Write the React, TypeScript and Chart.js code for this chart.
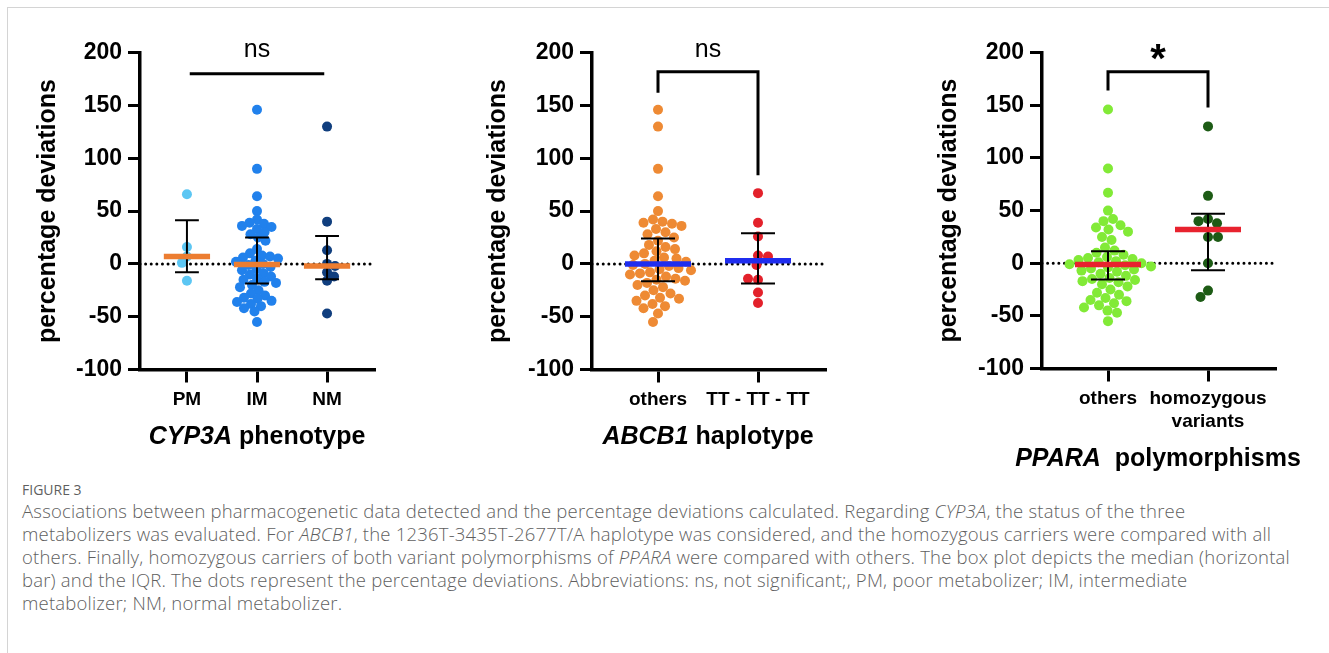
import React, { useEffect, useRef } from "react";
import { Chart, registerables } from "chart.js";

Chart.register(...registerables);

const FONT = '"Liberation Sans", Arial, Helvetica, sans-serif';

// ---------- shared axis ----------
const Y_MIN = -100;
const Y_MAX = 200;
const Y_STEP = 50;
const yAxisTitle = "percentage deviations";

// ---------- Panel 1: CYP3A phenotype ----------
const cyp3aCategories = ["PM", "IM", "NM"];
const pmValues = [66, 16, 7, 1, -16];
const imValues = [
  146, 90, 64, 50, 42, 39, 38, 36, 35, 33, 30, 28, 25, 22, 14, 10, 8, 7, 6, 5,
  3, 2, 0, -1, -3, -5, -6, -9, -10, -12, -14, -15, -17, -18, -20, -22, -25,
  -28, -30, -32, -33, -35, -36, -38, -40, -42, -45, -55,
];
const nmValues = [130, 40, 13, 0, -2, -8, -12, -16, -47];
const cyp3aMedians = [7, -0.5, -2];
const cyp3aQ1 = [-8, -18.6, -14.5];
const cyp3aQ3 = [41.4, 24.9, 26.5];

// ---------- Panel 2: ABCB1 haplotype ----------
const abcb1Categories = ["others", "TT - TT - TT"];
const abcb1Others = [
  146, 130, 90, 64, 50, 42, 40, 39, 38, 36, 33, 30, 28, 25, 22, 18, 16, 14, 12,
  10, 8, 6, 5, 3, 2, 0, -1, -2, -4, -5, -6, -8, -9, -10, -12, -14, -15, -16,
  -18, -20, -22, -25, -28, -30, -32, -33, -35, -38, -40, -42, -47, -55,
];
const abcb1TT = [67, 39, 26, 8, 7, -1, -15, -14, -27, -37];
const abcb1Medians = [0, 3];
const abcb1Q1 = [-16.4, -18.6];
const abcb1Q3 = [24, 29];

// ---------- Panel 3: PPARA polymorphisms ----------
const pparaCategories: (string | string[])[] = ["others", ["homozygous", "variants"]];
const pparaOthers = [
  146, 90, 67, 50, 42, 40, 36, 34, 32, 30, 25, 22, 15, 12, 10, 8, 6, 5, 4, 3, 2,
  1, 0, -1, -2, -3, -4, -5, -6, -7, -8, -10, -12, -14, -15, -16, -17, -18, -20,
  -22, -25, -28, -30, -33, -35, -36, -38, -40, -42, -45, -47, -55,
];
const pparaHomozygous = [130, 64, 42, 40, 38, 25, 25, 0, -26, -32];
const pparaMedians = [-1.3, 32];
const pparaQ1 = [-15.5, -6.6];
const pparaQ3 = [11.4, 47];

// ---------- significance annotations ----------
const sigLabels = ["ns", "ns", "*"];
const bracketY = [180, 182, 182];
const bracketLeftEnd: (number | null)[] = [null, 162, 164];
const bracketRightEnd: (number | null)[] = [null, 84, 148];

// ---------- x axis titles ----------
const xTitleItalic = ["CYP3A", "ABCB1", "PPARA"];
const xTitleRest = [" phenotype", " haplotype", "  polymorphisms"];

// ---------- caption ----------
const captionHead = "FIGURE 3";
const captionLines: { t: string; i?: boolean }[][] = [
  [
    { t: "Associations between pharmacogenetic data detected and the percentage deviations calculated. Regarding " },
    { t: "CYP3A", i: true },
    { t: ", the status of the three" },
  ],
  [
    { t: "metabolizers was evaluated. For " },
    { t: "ABCB1", i: true },
    { t: ", the 1236T-3435T-2677T/A haplotype was considered, and the homozygous carriers were compared with all" },
  ],
  [
    { t: "others. Finally, homozygous carriers of both variant polymorphisms of " },
    { t: "PPARA", i: true },
    { t: " were compared with others. The box plot depicts the median (horizontal" },
  ],
  [
    { t: "bar) and the IQR. The dots represent the percentage deviations. Abbreviations: ns, not significant;, PM, poor metabolizer; IM, intermediate" },
  ],
  [{ t: "metabolizer; NM, normal metabolizer." }],
];

type Panel = {
  left: number;
  width: number;
  height: number;
  axisLeft: number;
  axisRight: number;
  axisTop: number;
  axisBottom: number;
  xMin: number;
  xMax: number;
  pxPerX: number;
  minDist: number;
  categories: (string | string[])[];
  groups: number[][];
  colors: string[];
  medians: number[];
  q1: number[];
  q3: number[];
  medianColor: string;
  titlePad: number;
  idx: number;
  xTitleBaseline: number;
};

const panels: Panel[] = [
  {
    left: 0, width: 440, height: 480,
    axisLeft: 140, axisRight: 374, axisTop: 52.7, axisBottom: 369.5,
    xMin: -0.67, xMax: 2.67, pxPerX: 70, minDist: 8,
    categories: cyp3aCategories,
    groups: [pmValues, imValues, nmValues],
    colors: ["#5CC6F3", "#2181EC", "#103E7E"],
    medians: cyp3aMedians, q1: cyp3aQ1, q3: cyp3aQ3,
    medianColor: "#EC7D31", titlePad: 33, idx: 0, xTitleBaseline: 443.5,
  },
  {
    left: 440, width: 440, height: 480,
    axisLeft: 152, axisRight: 385, axisTop: 52.7, axisBottom: 369.5,
    xMin: -0.66, xMax: 1.67, pxPerX: 100, minDist: 9.6,
    categories: abcb1Categories,
    groups: [abcb1Others, abcb1TT],
    colors: ["#EE8A34", "#E3212B"],
    medians: abcb1Medians, q1: abcb1Q1, q3: abcb1Q3,
    medianColor: "#1F2DEF", titlePad: 43, idx: 1, xTitleBaseline: 443.5,
  },
  {
    left: 880, width: 449, height: 480,
    axisLeft: 162, axisRight: 395, axisTop: 52.7, axisBottom: 368.5,
    xMin: -0.66, xMax: 1.67, pxPerX: 100, minDist: 9.6,
    categories: pparaCategories,
    groups: [pparaOthers, pparaHomozygous],
    colors: ["#82EA37", "#1D5B15"],
    medians: pparaMedians, q1: pparaQ1, q3: pparaQ3,
    medianColor: "#E8222E", titlePad: 54, idx: 2, xTitleBaseline: 466,
  },
];

// Deterministic beeswarm: offsets (in category units) computed from the values.
function swarm(values: number[], pxPerY: number, pxPerX: number, minDist: number): number[] {
  const placed: { x: number; y: number }[] = [];
  const out: number[] = [];
  values.forEach((v, idx) => {
    const y = v * pxPerY;
    const sign = idx % 2 === 0 ? 1 : -1;
    let best = 0;
    for (let k = 0; k < 400; k++) {
      const mag = Math.ceil(k / 2) * 0.5;
      const cand = k === 0 ? 0 : (k % 2 === 1 ? sign : -sign) * mag;
      let ok = true;
      for (const p of placed) {
        if (Math.hypot(p.x - cand, p.y - y) < minDist) {
          ok = false;
          break;
        }
      }
      if (ok) {
        best = cand;
        break;
      }
    }
    placed.push({ x: best, y });
    out.push(best / pxPerX);
  });
  return out;
}

function makeChart(canvas: HTMLCanvasElement, p: Panel): Chart {
  const chartH = p.axisBottom - p.axisTop;
  const pxPerY = chartH / (Y_MAX - Y_MIN);
  const datasets: any[] = [];

  // dotted zero line
  datasets.push({
    type: "line",
    data: [{ x: p.xMin, y: 0 }, { x: p.xMax, y: 0 }],
    borderColor: "#000",
    borderWidth: 3,
    borderDash: [0.01, 5.6],
    borderCapStyle: "round",
    pointRadius: 0,
    order: 10,
    clip: false,
  });

  // dots
  p.groups.forEach((vals, i) => {
    const offs = swarm(vals, pxPerY, p.pxPerX, p.minDist);
    datasets.push({
      type: "scatter",
      data: vals.map((v, k) => ({ x: i + offs[k], y: v })),
      backgroundColor: p.colors[i],
      borderWidth: 0,
      pointRadius: 5,
      order: 5,
    });
  });

  // IQR error bars
  const cap = 0.17;
  p.q1.forEach((q1, i) => {
    const q3 = p.q3[i];
    datasets.push({
      type: "line",
      data: [
        { x: i - cap, y: q3 }, { x: i + cap, y: q3 }, { x: i, y: null },
        { x: i, y: q3 }, { x: i, y: q1 }, { x: i + 0.001, y: null },
        { x: i - cap, y: q1 }, { x: i + cap, y: q1 },
      ],
      borderColor: "#000",
      borderWidth: 2,
      pointRadius: 0,
      spanGaps: false,
      order: 2,
    });
  });

  // median bars
  p.medians.forEach((m, i) => {
    datasets.push({
      type: "line",
      data: [{ x: i - 0.33, y: m }, { x: i + 0.33, y: m }],
      borderColor: p.medianColor,
      borderWidth: 5.5,
      pointRadius: 0,
      order: 1,
    });
  });

  // significance bracket
  const by = bracketY[p.idx];
  const le = bracketLeftEnd[p.idx];
  const re = bracketRightEnd[p.idx];
  const bracketData =
    le === null || re === null
      ? [{ x: 0.04, y: by }, { x: 1.96, y: by }]
      : [{ x: 0, y: le }, { x: 0, y: by }, { x: 1, y: by }, { x: 1, y: re }];
  datasets.push({
    type: "line",
    data: bracketData,
    borderColor: "#000",
    borderWidth: 3,
    borderJoinStyle: "miter",
    pointRadius: 0,
    order: 0,
    clip: false,
  });

  const annot = {
    id: "annot" + p.idx,
    afterDraw(chart: any) {
      const { ctx, scales } = chart;
      const x = scales.x;
      const y = scales.y;
      ctx.save();
      ctx.fillStyle = "#000";
      ctx.textAlign = "center";
      ctx.textBaseline = "alphabetic";
      const sig = sigLabels[p.idx];
      const sigX = le === null ? x.getPixelForValue(1) : x.getPixelForValue(0.5);
      if (sig === "*") {
        ctx.font = `bold 40px ${FONT}`;
        ctx.fillText(sig, sigX, y.top + 19);
      } else {
        ctx.font = `25px ${FONT}`;
        ctx.fillText(sig, sigX, y.top + 4.3);
      }
      // x title with italic gene name
      const it = xTitleItalic[p.idx];
      const rest = xTitleRest[p.idx];
      const f1 = `italic bold 25px ${FONT}`;
      const f2 = `bold 25px ${FONT}`;
      ctx.font = f1;
      const w1 = ctx.measureText(it).width;
      ctx.font = f2;
      const w2 = ctx.measureText(rest).width;
      const cx = (x.getPixelForValue(0) + x.getPixelForValue(p.categories.length - 1)) / 2;
      const sx = cx - (w1 + w2) / 2;
      ctx.textAlign = "left";
      ctx.font = f1;
      ctx.fillText(it, sx, p.xTitleBaseline);
      ctx.font = f2;
      ctx.fillText(rest, sx + w1, p.xTitleBaseline);
      ctx.restore();
    },
  };

  const xTitleSpace = 60;
  return new Chart(canvas, {
    type: "scatter",
    data: { datasets },
    options: {
      responsive: false,
      animation: false,
      events: [],
      layout: {
        autoPadding: false,
        padding: {
          left: 0,
          right: p.width - p.axisRight,
          top: p.axisTop,
          bottom: p.height - p.axisBottom - xTitleSpace,
        },
      },
      plugins: { legend: { display: false }, tooltip: { enabled: false } },
      scales: {
        x: {
          type: "linear",
          min: p.xMin,
          max: p.xMax,
          afterFit: (s: any) => {
            s.height = xTitleSpace;
          },
          afterBuildTicks: (s: any) => {
            s.ticks = p.categories.map((_, i) => ({ value: i }));
          },
          ticks: {
            autoSkip: false,
            maxRotation: 0,
            minRotation: 0,
            padding: 6,
            color: "#000",
            font: { family: FONT, size: 19, weight: "bold" },
            callback: (v: any) => p.categories[Math.round(v)],
          },
          grid: {
            drawOnChartArea: false,
            drawTicks: true,
            tickLength: 13,
            lineWidth: 3,
            color: "#000",
          },
          border: { display: true, color: "#000", width: 3.5 },
        },
        y: {
          type: "linear",
          min: Y_MIN,
          max: Y_MAX,
          afterFit: (s: any) => {
            s.width = p.axisLeft;
          },
          ticks: {
            stepSize: Y_STEP,
            padding: 6,
            color: "#000",
            font: { family: FONT, size: 23, weight: "bold" },
            callback: (v: any) => String(v),
          },
          grid: {
            drawOnChartArea: false,
            drawTicks: true,
            tickLength: 12,
            lineWidth: 3,
            color: "#000",
          },
          border: { display: true, color: "#000", width: 3.5 },
          title: {
            display: true,
            text: yAxisTitle,
            color: "#000",
            font: { family: FONT, size: 25, weight: "bold" },
            padding: { top: p.titlePad, bottom: 0 },
          },
        },
      },
    },
    plugins: [annot],
  } as any);
}

function PanelChart({ p }: { p: Panel }) {
  const ref = useRef<HTMLCanvasElement | null>(null);
  useEffect(() => {
    if (!ref.current) return;
    const c = makeChart(ref.current, p);
    return () => c.destroy();
  }, [p]);
  return (
    <canvas
      ref={ref}
      width={p.width}
      height={p.height}
      style={{ position: "absolute", left: p.left, top: 0, width: p.width, height: p.height }}
    />
  );
}

export default function App() {
  const capFont = '"Open Sans", "Noto Sans", sans-serif';
  return (
    <div
      style={{
        position: "fixed",
        left: 0,
        top: 0,
        width: 1329,
        height: 653,
        background: "#fff",
        overflow: "hidden",
      }}
    >
      <div
        style={{
          position: "absolute",
          left: 7,
          top: 7,
          width: 1329,
          height: 653,
          borderTop: "1.5px solid #d4d4d4",
          borderLeft: "1.5px solid #d4d4d4",
        }}
      />
      {panels.map((p) => (
        <PanelChart key={p.idx} p={p} />
      ))}
      <div
        style={{
          position: "absolute",
          left: 22,
          top: 482,
          fontFamily: capFont,
          fontSize: 14,
          color: "#5f5f5f",
          lineHeight: "16px",
          whiteSpace: "nowrap",
        }}
      >
        {captionHead}
      </div>
      {captionLines.map((line, li) => (
        <div
          key={li}
          style={{
            position: "absolute",
            left: 22,
            top: 499 + li * 23,
            fontFamily: capFont,
            fontSize: 18.5,
            letterSpacing: 0.2,
            fontWeight: 300,
            color: "#5f5f5f",
            lineHeight: "23px",
            whiteSpace: "nowrap",
          }}
        >
          {line.map((seg, si) =>
            seg.i ? <i key={si}>{seg.t}</i> : <span key={si}>{seg.t}</span>
          )}
        </div>
      ))}
    </div>
  );
}
